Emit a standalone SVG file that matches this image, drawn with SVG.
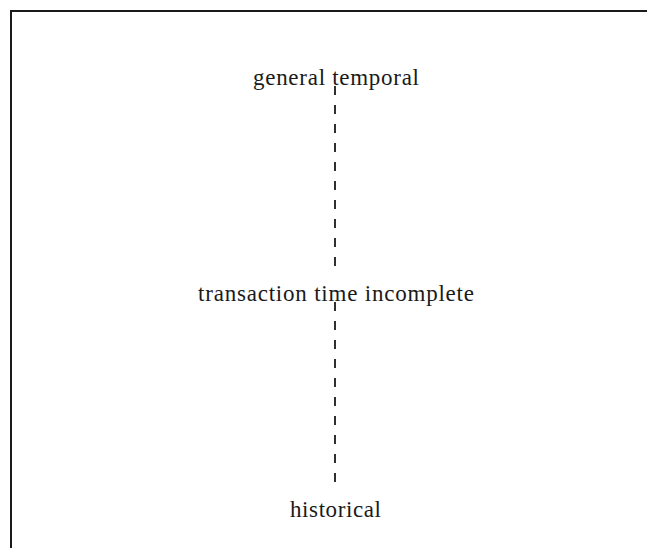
<svg xmlns="http://www.w3.org/2000/svg" width="647" height="548" viewBox="0 0 647 548">
<style>
.frame{stroke:#1a1a1a;stroke-width:2;fill:none}
.lbl{font-family:"Liberation Serif","DejaVu Serif",serif;font-size:23px;fill:#1a1a1a;text-anchor:middle}
.dash{stroke:#1a1a1a;stroke-width:1.8;stroke-dasharray:9 10;fill:none}
</style>
<rect width="647" height="548" fill="#ffffff"/>
<path class="frame" d="M11 548 V11 H647"/>
<g id="connectors">
<line class="dash" x1="335" y1="86" x2="335" y2="266"/>
<line class="dash" x1="335" y1="302" x2="335" y2="482"/>
</g>
<g id="node-general-temporal">
<text class="lbl" x="336" y="85" textLength="166">general temporal</text>
</g>
<g id="node-transaction-time-incomplete">
<text class="lbl" x="336" y="301" textLength="276">transaction time incomplete</text>
</g>
<g id="node-historical">
<text class="lbl" x="335.5" y="517" textLength="91">historical</text>
</g>
</svg>
